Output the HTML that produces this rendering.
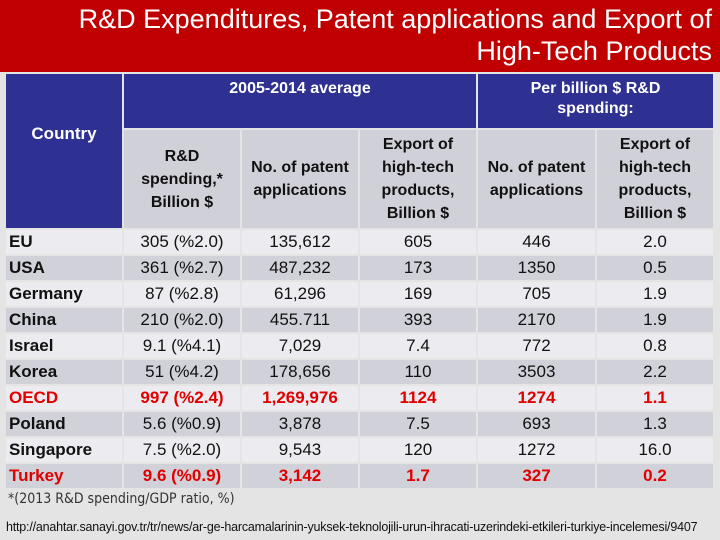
<!DOCTYPE html>
<html><head><meta charset="utf-8"><style>
body{margin:0;width:720px;height:540px;overflow:hidden;background:#e4e4e4;font-family:"Liberation Sans Narrow","Liberation Sans",sans-serif;position:relative}
#title{position:absolute;left:0;top:0;width:720px;height:72px;background:#c00000;color:#fff;font-size:27px;line-height:32px;text-align:right;box-sizing:border-box;padding:3px 8px 0 0;white-space:nowrap}
table{position:absolute;left:4px;top:72px;border-collapse:separate;border-spacing:2px;table-layout:fixed}
td{padding:0;text-align:center;font-size:17px;color:#111;height:24px}
.h1{background:#2e3192;color:#fff;font-weight:bold;font-size:16px;height:49px;line-height:20px}
.h2{background:#d0d0d8;font-weight:bold;font-size:16px;height:98px;line-height:23px;color:#111}
.cty{text-align:left;padding-left:3px;font-weight:bold}
tr.a td{background:#ebebf0}
tr.b td{background:#d0d1d9}
tr.red td{color:#e00000;font-weight:bold}
#note{position:absolute;left:8px;top:491px;font-size:14px;color:#333;font-family:"DejaVu Sans Condensed","Liberation Sans",sans-serif}
#url{position:absolute;left:6px;top:520px;font-size:12.5px;color:#111;letter-spacing:-0.2px;white-space:nowrap}
</style></head><body>
<div id="title">R&amp;D Expenditures, Patent applications and Export of<br>High-Tech Products</div>
<table>
<colgroup><col style="width:116px"><col style="width:116px"><col style="width:116px"><col style="width:116px"><col style="width:117px"><col style="width:116px"></colgroup>
<tr><td class="h1" rowspan="2" style="vertical-align:top;padding-top:50px;font-size:17px;">Country</td>
<td class="h1" colspan="3" style="vertical-align:top;padding-top:5px">2005-2014 average</td>
<td class="h1" colspan="2" style="vertical-align:top;padding-top:5px">Per billion $ R&amp;D<br>spending:</td></tr>
<tr><td class="h2">R&amp;D<br>spending,*<br>Billion $</td>
<td class="h2">No. of patent<br>applications</td>
<td class="h2">Export of<br>high-tech<br>products,<br>Billion $</td>
<td class="h2">No. of patent<br>applications</td>
<td class="h2">Export of<br>high-tech<br>products,<br>Billion $</td></tr>
<tr class="a"><td class="cty">EU</td><td>305 (%2.0)</td><td>135,612</td><td>605</td><td>446</td><td>2.0</td></tr>
<tr class="b"><td class="cty">USA</td><td>361 (%2.7)</td><td>487,232</td><td>173</td><td>1350</td><td>0.5</td></tr>
<tr class="a"><td class="cty">Germany</td><td>87 (%2.8)</td><td>61,296</td><td>169</td><td>705</td><td>1.9</td></tr>
<tr class="b"><td class="cty">China</td><td>210 (%2.0)</td><td>455.711</td><td>393</td><td>2170</td><td>1.9</td></tr>
<tr class="a"><td class="cty">Israel</td><td>9.1 (%4.1)</td><td>7,029</td><td>7.4</td><td>772</td><td>0.8</td></tr>
<tr class="b"><td class="cty">Korea</td><td>51 (%4.2)</td><td>178,656</td><td>110</td><td>3503</td><td>2.2</td></tr>
<tr class="a red"><td class="cty">OECD</td><td>997 (%2.4)</td><td>1,269,976</td><td>1124</td><td>1274</td><td>1.1</td></tr>
<tr class="b"><td class="cty">Poland</td><td>5.6 (%0.9)</td><td>3,878</td><td>7.5</td><td>693</td><td>1.3</td></tr>
<tr class="a"><td class="cty">Singapore</td><td>7.5 (%2.0)</td><td>9,543</td><td>120</td><td>1272</td><td>16.0</td></tr>
<tr class="b red"><td class="cty">Turkey</td><td>9.6 (%0.9)</td><td>3,142</td><td>1.7</td><td>327</td><td>0.2</td></tr>
</table>
<div id="note">*(2013 R&amp;D spending/GDP ratio, %)</div>
<div id="url">http://anahtar.sanayi.gov.tr/tr/news/ar-ge-harcamalarinin-yuksek-teknolojili-urun-ihracati-uzerindeki-etkileri-turkiye-incelemesi/9407</div>
</body></html>
